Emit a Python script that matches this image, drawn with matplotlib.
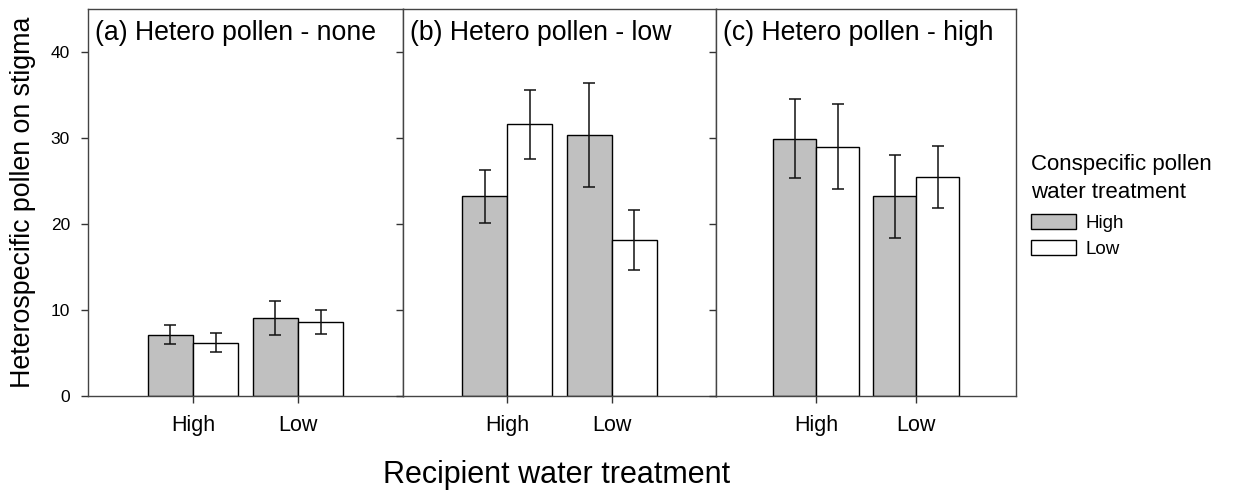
import numpy as np
import matplotlib
matplotlib.use('Agg')
import matplotlib.pyplot as plt
from matplotlib.patches import Patch

plt.rcParams['font.family'] = ['Liberation Sans', 'DejaVu Sans']

# data
groups = ['High', 'Low']
panel_titles = ['(a) Hetero pollen - none', '(b) Hetero pollen - low', '(c) Hetero pollen - high']
high_mean = [[7.1, 9.05], [23.2, 30.35], [29.9, 23.2]]
high_err = [[1.1, 2.0], [3.1, 6.0], [4.6, 4.8]]
low_mean = [[6.2, 8.6], [31.6, 18.1], [29.0, 25.5]]
low_err = [[1.1, 1.4], [4.0, 3.5], [4.95, 3.6]]
legend_labels = ['High', 'Low']

W, H = 1253, 493
fig = plt.figure(figsize=(W / 100, H / 100), dpi=100)

# panel edges in pixels (left, right)
edges = [(88, 403), (403, 716), (716, 1016)]
top_px, bot_px = 9, 396

gray = '#c0c0c0'
bw = 0.43
x = np.arange(len(groups))

for i, (l, r) in enumerate(edges):
    ax = fig.add_axes([l / W, 1 - bot_px / H, (r - l) / W, (bot_px - top_px) / H])
    ax.bar(x - bw / 2, high_mean[i], bw, color=gray, edgecolor='black', linewidth=1.0, zorder=2)
    ax.bar(x + bw / 2, low_mean[i], bw, color='white', edgecolor='black', linewidth=1.0, zorder=2)
    ax.errorbar(x - bw / 2, high_mean[i], yerr=high_err[i], fmt='none', ecolor='#111111',
                elinewidth=1.1, capsize=4.3, capthick=1.1, zorder=3)
    ax.errorbar(x + bw / 2, low_mean[i], yerr=low_err[i], fmt='none', ecolor='#111111',
                elinewidth=1.1, capsize=4.3, capthick=1.1, zorder=3)
    ax.set_xlim(-1, 2)
    ax.set_ylim(0, 45)
    ax.set_xticks(x)
    ax.set_xticklabels(groups, fontsize=15.5)
    ax.set_yticks([0, 10, 20, 30, 40])
    if i == 0:
        ax.set_yticklabels(['0', '10', '20', '30', '40'], fontsize=12.5)
    else:
        ax.set_yticklabels([])
    ax.tick_params(axis='x', length=5, width=1, pad=9, color='#333333')
    ax.tick_params(axis='y', length=5, width=1, pad=8, color='#333333')
    for s in ax.spines.values():
        s.set_color('#444444')
        s.set_linewidth(1.0)
    ax.text(0.022, 0.972, panel_titles[i], transform=ax.transAxes,
            ha='left', va='top', fontsize=19.2)

fig.text(23 / W, 1 - 202.5 / H, 'Heterospecific pollen on stigma', rotation=90,
         ha='center', va='center', fontsize=19.3)
fig.text(557 / W, 1 - 475 / H, 'Recipient water treatment', ha='center', va='center', fontsize=22)

handles = [Patch(facecolor=gray, edgecolor='black', linewidth=1.0),
           Patch(facecolor='white', edgecolor='black', linewidth=1.0)]
leg = fig.legend(handles, legend_labels, loc='upper left',
                 bbox_to_anchor=(1031 / W, 1 - 154 / H), frameon=False,
                 title='Conspecific pollen\nwater treatment', title_fontsize=16,
                 fontsize=13.5, alignment='left', handlelength=2.4, handleheight=0.85,
                 handletextpad=0.5, labelspacing=0.42, borderpad=0, borderaxespad=0)
leg.get_title().set_linespacing(1.45)
leg._legend_box.sep = 8

fig.savefig('out.png', dpi=100)
